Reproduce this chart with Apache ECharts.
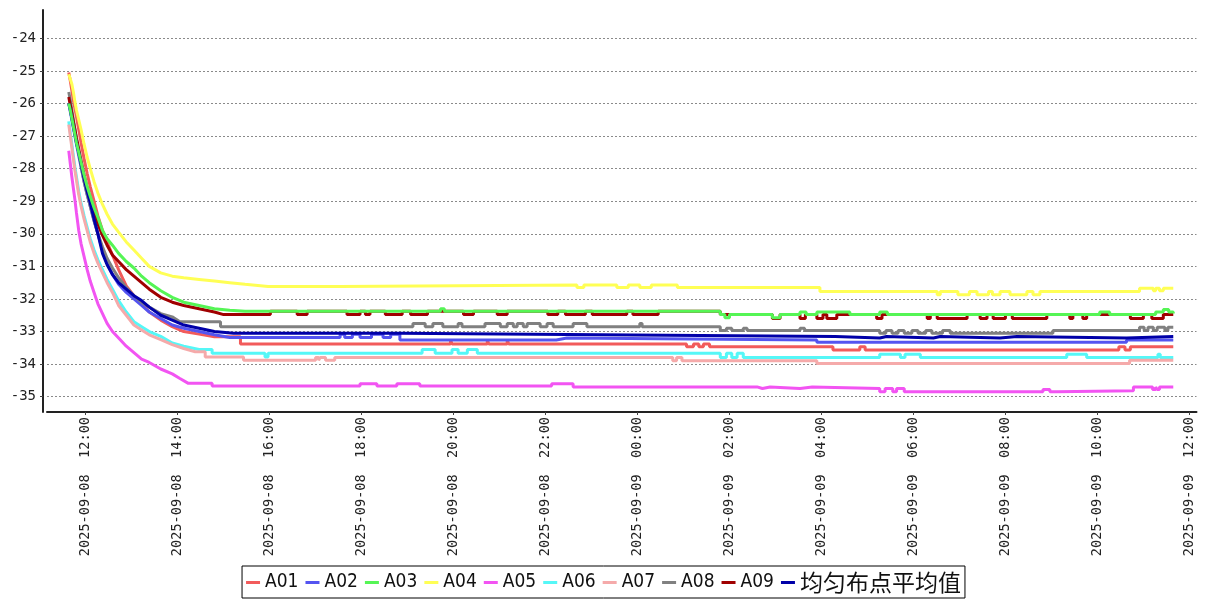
<!DOCTYPE html>
<html><head><meta charset="utf-8">
<script src="https://cdn.jsdelivr.net/npm/echarts@6/dist/echarts.min.js"></script>
<style>html,body{margin:0;padding:0;background:#fff}#c{width:1207px;height:600px}</style>
</head><body><div id="c"></div><script>
// Readings: [minutes after 2025-09-08 11:38, value]
// *_DECAY: cooling curve readings; *_LEVELS: later change points (value held until next change)
const START_HOUR = 11 + 38 / 60;            // hours after 2025-09-08 00:00
const X_MIN_HOUR = 11.16, X_MAX_HOUR = 36.155;
const Y_MIN = -35.47, Y_MAX = -23.13;
const NAMES = ['A01','A02','A03','A04','A05','A06','A07','A08','A09','均匀布点平均值'];
const COLORS = ['#f25b5b','#5454f0','#55f555','#ffff55','#f254f2','#55f7f7','#f5aaaa','#808080','#a00000','#0000a8'];

const A01_DECAY = [[0,-25.05],[2,-25.3],[4,-25.6],[6,-25.9],[8,-26.15],[10,-26.4],[13,-26.8],[16,-27.2],[20,-27.7],[24,-28.15],[28,-28.55],[33,-29.0],[38,-29.45],[44,-29.9],[50,-30.25],[57,-30.65],[65,-31.1],[75,-31.6],[85,-31.9],[95,-32.15],[105,-32.4],[120,-32.65],[135,-32.85],[150,-33.0],[170,-33.08],[190,-33.16]];
const A01_LEVELS = [[224,-33.38],[498,-33.25],[500,-33.38],[546,-33.25],[548,-33.38],[572,-33.25],[574,-33.38],[806,-33.47],[815,-33.38],[822,-33.47],[828,-33.38],[836,-33.47],[997,-33.57],[1032,-33.47],[1039,-33.57],[1370,-33.47],[1378,-33.57],[1385,-33.47],[1441,-33.47]];
const A02_DECAY = [[0,-26.0],[2,-26.25],[4,-26.5],[6,-26.75],[8,-27.0],[10,-27.25],[13,-27.6],[16,-27.95],[20,-28.4],[24,-28.8],[28,-29.15],[33,-29.6],[38,-30.0],[44,-30.5],[50,-30.9],[57,-31.25],[65,-31.55],[75,-31.8],[85,-32.0],[95,-32.2],[105,-32.4],[120,-32.6],[135,-32.8],[150,-32.9],[170,-33.0],[190,-33.1],[210,-33.18]];
const A02_LEVELS = [[354,-33.08],[360,-33.18],[370,-33.08],[380,-33.18],[395,-33.08],[410,-33.18],[420,-33.08],[432,-33.26],[636,-33.2],[650,-33.26],[976,-33.33],[1380,-33.26],[1441,-33.26]];
const A03_DECAY = [[0,-26.0],[2,-26.2],[4,-26.45],[6,-26.7],[8,-26.95],[10,-27.2],[13,-27.5],[16,-27.8],[20,-28.2],[24,-28.55],[28,-28.85],[33,-29.2],[38,-29.5],[44,-29.9],[50,-30.15],[57,-30.35],[65,-30.6],[75,-30.85],[85,-31.05],[95,-31.3],[105,-31.5],[120,-31.75],[135,-31.95],[150,-32.1],[170,-32.2],[190,-32.3],[210,-32.35],[230,-32.38]];
const A03_LEVELS = [[485,-32.3],[490,-32.38],[850,-32.48],[856,-32.58],[862,-32.48],[918,-32.58],[928,-32.48],[954,-32.4],[962,-32.48],[976,-32.4],[1019,-32.48],[1058,-32.4],[1068,-32.48],[1345,-32.4],[1358,-32.48],[1418,-32.4],[1428,-32.32],[1435,-32.4],[1441,-32.45]];
const A04_DECAY = [[0,-25.1],[2,-25.15],[4,-25.4],[6,-25.65],[8,-25.95],[10,-26.2],[13,-26.5],[16,-26.8],[20,-27.25],[24,-27.65],[28,-28.0],[33,-28.4],[38,-28.75],[44,-29.1],[50,-29.4],[57,-29.7],[65,-29.95],[75,-30.25],[85,-30.5],[95,-30.75],[105,-31.0],[120,-31.2],[135,-31.3],[150,-31.35],[170,-31.4],[190,-31.45],[210,-31.5],[230,-31.55],[260,-31.62]];
const A04_LEVELS = [[354,-31.57],[663,-31.65],[672,-31.57],[715,-31.65],[730,-31.57],[745,-31.65],[760,-31.57],[794,-31.65],[980,-31.77],[1133,-31.87],[1137,-31.77],[1160,-31.87],[1175,-31.77],[1185,-31.87],[1200,-31.77],[1205,-31.87],[1215,-31.77],[1228,-31.87],[1250,-31.77],[1258,-31.87],[1267,-31.77],[1397,-31.67],[1415,-31.75],[1418,-31.67],[1423,-31.75],[1428,-31.67],[1441,-31.67]];
const A05_DECAY = [[0,-27.45],[2,-27.85],[4,-28.25],[6,-28.6],[8,-28.95],[10,-29.35],[13,-29.9],[16,-30.3],[20,-30.7],[24,-31.1],[28,-31.45],[33,-31.8],[38,-32.15],[44,-32.45],[50,-32.75],[57,-33.0],[65,-33.2],[75,-33.45],[85,-33.65],[95,-33.85],[105,-33.95],[120,-34.15],[135,-34.3],[145,-34.44],[156,-34.59]];
const A05_LEVELS = [[187,-34.67],[380,-34.6],[402,-34.67],[428,-34.6],[458,-34.67],[630,-34.6],[658,-34.7],[898,-34.75],[905,-34.7],[915,-34.75],[954,-34.7],[970,-34.75],[1058,-34.85],[1065,-34.75],[1075,-34.85],[1080,-34.75],[1090,-34.85],[1271,-34.78],[1280,-34.85],[1289,-34.82],[1389,-34.7],[1414,-34.78],[1418,-34.7],[1420,-34.78],[1423,-34.7],[1441,-34.7]];
const A06_DECAY = [[0,-26.55],[2,-26.9],[4,-27.25],[6,-27.6],[8,-27.95],[10,-28.25],[13,-28.7],[16,-29.05],[20,-29.45],[24,-29.8],[28,-30.15],[33,-30.5],[38,-30.8],[44,-31.1],[50,-31.4],[57,-31.7],[65,-32.05],[75,-32.4],[85,-32.7],[95,-32.85],[105,-33.0],[120,-33.15],[135,-33.35],[150,-33.45],[170,-33.55]];
const A06_LEVELS = [[187,-33.67],[256,-33.78],[260,-33.67],[461,-33.55],[478,-33.67],[500,-33.55],[508,-33.67],[520,-33.55],[533,-33.67],[850,-33.8],[858,-33.67],[865,-33.8],[872,-33.67],[880,-33.8],[1058,-33.7],[1085,-33.8],[1091,-33.7],[1111,-33.8],[1302,-33.7],[1328,-33.8],[1421,-33.7],[1424,-33.8],[1441,-33.8]];
const A07_DECAY = [[0,-26.65],[2,-27.0],[4,-27.35],[6,-27.7],[8,-28.05],[10,-28.35],[13,-28.8],[16,-29.15],[20,-29.55],[24,-29.9],[28,-30.25],[33,-30.6],[38,-30.9],[44,-31.2],[50,-31.5],[57,-31.8],[65,-32.2],[75,-32.5],[85,-32.8],[95,-32.95],[105,-33.1],[120,-33.25],[135,-33.4],[150,-33.52],[165,-33.62]];
const A07_LEVELS = [[178,-33.78],[228,-33.88],[322,-33.8],[326,-33.88],[328,-33.8],[335,-33.88],[347,-33.8],[788,-33.9],[793,-33.8],[800,-33.9],[976,-33.98],[1384,-33.88],[1441,-33.88]];
const A08_DECAY = [[0,-25.65],[2,-25.9],[4,-26.2],[6,-26.5],[8,-26.8],[10,-27.1],[13,-27.5],[16,-27.9],[20,-28.4],[24,-28.8],[28,-29.15],[33,-29.6],[38,-30.0],[44,-30.4],[50,-30.75],[57,-31.05],[65,-31.35],[75,-31.65],[85,-31.9],[95,-32.1],[105,-32.25],[120,-32.45],[135,-32.55],[145,-32.7]];
const A08_LEVELS = [[198,-32.85],[449,-32.75],[465,-32.85],[475,-32.75],[488,-32.85],[508,-32.75],[513,-32.85],[543,-32.75],[563,-32.85],[572,-32.75],[580,-32.85],[585,-32.75],[593,-32.85],[598,-32.75],[615,-32.85],[624,-32.75],[632,-32.85],[658,-32.75],[676,-32.85],[745,-32.75],[748,-32.85],
  [850,-32.97],[858,-32.9],[865,-32.97],[880,-32.9],[885,-32.97],[954,-32.9],[960,-32.97],[1058,-33.05],[1066,-32.97],[1074,-33.05],[1082,-32.97],[1090,-33.05],[1100,-32.97],[1108,-33.05],[1118,-32.97],[1126,-33.05],[1140,-32.97],[1150,-33.05],[1284,-32.97],[1397,-32.87],[1403,-32.97],[1408,-32.87],[1415,-32.97],[1420,-32.87],[1430,-32.97],[1434,-32.87],[1441,-32.87]];
const A09_DECAY = [[0,-25.8],[2,-26.05],[4,-26.3],[6,-26.55],[8,-26.8],[10,-27.05],[13,-27.4],[16,-27.75],[20,-28.2],[24,-28.6],[28,-28.95],[33,-29.35],[38,-29.7],[44,-30.05],[50,-30.35],[57,-30.65],[65,-30.85],[75,-31.1],[85,-31.3],[95,-31.5],[105,-31.7],[120,-31.95],[135,-32.1],[150,-32.2],[170,-32.3],[190,-32.4],[202,-32.48]];
const A09_LEVELS = [[263,-32.38],[298,-32.48],[311,-32.38],[363,-32.48],[380,-32.38],[387,-32.48],[393,-32.38],[413,-32.48],[435,-32.38],[446,-32.48],[468,-32.38],[515,-32.48],[528,-32.38],[559,-32.48],[572,-32.38],[625,-32.48],[638,-32.38],[648,-32.48],[674,-32.38],[683,-32.48],[728,-32.38],[736,-32.48],[769,-32.38],
  [850,-32.48],[918,-32.6],[928,-32.48],[954,-32.6],[961,-32.48],[976,-32.6],[984,-32.48],[989,-32.6],[1002,-32.48],[1054,-32.6],[1061,-32.48],[1120,-32.6],[1124,-32.48],[1133,-32.6],[1172,-32.48],[1189,-32.6],[1198,-32.48],[1206,-32.6],[1222,-32.48],[1231,-32.6],[1276,-32.48],[1306,-32.6],[1310,-32.48],[1323,-32.6],[1328,-32.48],[1385,-32.6],[1402,-32.48],[1413,-32.6],[1428,-32.48],[1441,-32.48]];
const AVG_DECAY = [[0,-26.0],[2,-26.2],[4,-26.45],[6,-26.7],[8,-26.95],[10,-27.2],[13,-27.5],[16,-27.85],[20,-28.3],[24,-28.7],[28,-29.05],[33,-29.55],[38,-30.0],[44,-30.6],[50,-30.95],[57,-31.25],[65,-31.5],[75,-31.7],[85,-31.9],[95,-32.05],[105,-32.25],[120,-32.5],[135,-32.65],[150,-32.8],[170,-32.9],[190,-33.0],[215,-33.05]];
const AVG_LEVELS = [[432,-33.1],[693,-33.15],[1000,-33.2],[1058,-33.15],[1067,-33.2],[1128,-33.15],[1137,-33.2],[1215,-33.15],[1237,-33.2],[1380,-33.15],[1441,-33.15]];

const SERIES_PARTS = [[A01_DECAY,A01_LEVELS],[A02_DECAY,A02_LEVELS],[A03_DECAY,A03_LEVELS],[A04_DECAY,A04_LEVELS],[A05_DECAY,A05_LEVELS],[A06_DECAY,A06_LEVELS],[A07_DECAY,A07_LEVELS],[A08_DECAY,A08_LEVELS],[A09_DECAY,A09_LEVELS],[AVG_DECAY,AVG_LEVELS]];

// decay readings joined by straight lines; later levels are held until the next change
function buildPoints(decay, levels) {
  const pts = decay.slice();
  let prev = decay[decay.length - 1][1];
  for (const [t, v] of levels) { pts.push([t, prev]); pts.push([t, v]); prev = v; }
  return pts.map(([m, v]) => [START_HOUR + m / 60, v]);
}

const pad = n => String(n).padStart(2, '0');
function fmtTime(h) {
  const hh = Math.round(h);
  return '2025-09-' + pad(8 + Math.floor(hh / 24)) + '  ' + pad(hh % 24) + ':00';
}

const chart = echarts.init(document.getElementById('c'), null, {renderer: 'canvas'});
const mono = "'DejaVu Sans Mono', 'Liberation Mono', monospace";
chart.setOption({
  animation: false,
  backgroundColor: '#fff',
  grid: {left: 47, right: 10.5, top: 10, bottom: 188, containLabel: false},
  xAxis: {
    type: 'value', min: X_MIN_HOUR, max: X_MAX_HOUR, minInterval: 2, maxInterval: 2,
    axisLine: {lineStyle: {color: '#222', width: 2}},
    axisTick: {show: true, length: 3, lineStyle: {color: '#444'}},
    axisLabel: {rotate: 90, margin: 5, color: '#222', fontSize: 13.6, fontFamily: mono,
      showMinLabel: false, showMaxLabel: false, formatter: v => fmtTime(v)},
    splitLine: {show: false}
  },
  yAxis: {
    type: 'value', min: Y_MIN, max: Y_MAX, minInterval: 1, maxInterval: 1, offset: 4,
    axisLine: {show: true, lineStyle: {color: '#222', width: 2}},
    axisTick: {show: true, length: 3, lineStyle: {color: '#444'}},
    axisLabel: {margin: 7, color: '#222', fontSize: 14, fontFamily: mono,
      showMinLabel: false, showMaxLabel: false},
    splitLine: {show: true, showMinLine: false, showMaxLine: false,
      lineStyle: {color: '#8a8a8a', width: 1, type: [2, 2]}}
  },
  legend: {
    bottom: 2, left: 'center', orient: 'horizontal',
    borderColor: '#000', borderWidth: 1, padding: [5, 4, 4, 4],
    itemWidth: 14, itemHeight: 3, itemGap: 7, icon: 'rect',
    formatter: name => /^A\d/.test(name) ? name : '{cn|' + name + '}',
    textStyle: {fontSize: 19, lineHeight: 23, color: '#111',
      fontFamily: "'DejaVu Sans Condensed', 'Liberation Sans', sans-serif",
      rich: {cn: {fontSize: 23, lineHeight: 23, color: '#111', fontFamily: "'Noto Sans CJK SC', sans-serif"}}},
    data: NAMES
  },
  series: NAMES.map((name, i) => ({
    name, type: 'line', showSymbol: false, symbol: 'none',
    z: name === 'A03' ? 3 : 2,
    color: COLORS[i],
    lineStyle: {width: 3, color: COLORS[i]},
    data: buildPoints(SERIES_PARTS[i][0], SERIES_PARTS[i][1])
  }))
});
</script></body></html>
